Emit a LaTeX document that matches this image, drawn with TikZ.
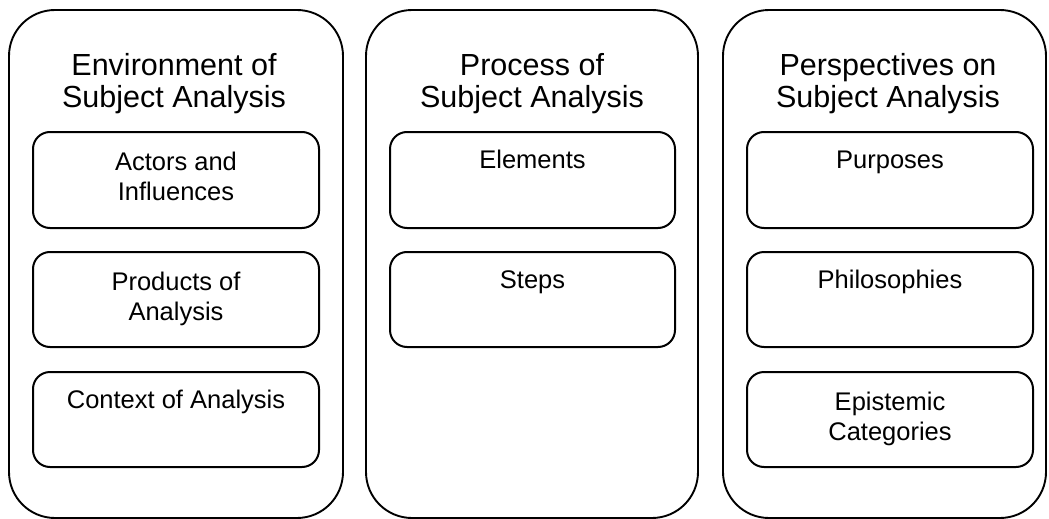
\documentclass[tikz,border=0pt]{standalone}
\usepackage{fontspec}
\setmainfont{Liberation Sans}
\begin{document}
\begin{tikzpicture}[x=1pt,y=-1pt,
  outerbox/.style={draw, line width=1.9pt, rounded corners=46pt, inner sep=0pt, minimum height=508pt},
  innerbox/.style={draw, line width=2pt, rounded corners=17pt, inner sep=0pt},
  titletext/.style={anchor=base, align=center, inner sep=0pt, font=\fontsize{30.5}{32}\selectfont},
  itemtext/.style={anchor=base, align=center, inner sep=0pt, font=\fontsize{25.5}{30}\selectfont}]
\useasboundingbox (0,0) rectangle (1049,519);
% outer columns
\node[outerbox, minimum width=334pt] (envbox) at (176,264) {};
\node[outerbox, minimum width=332pt] (procbox) at (532,264) {};
\node[outerbox, minimum width=323pt] (perspbox) at (884.5,264) {};
% titles (base anchor = last line baseline)
\node[titletext] (envtitle) at (174,107) {Environment of\\Subject Analysis};
\node[titletext] (proctitle) at (532,107) {Process of\\Subject Analysis};
\node[titletext] (persptitle) at (888,107) {Perspectives on\\Subject Analysis};
% left inner boxes
\node[innerbox, minimum width=286pt, minimum height=96pt] (actors) at (176,180) {};
\node[innerbox, minimum width=286pt, minimum height=95pt] (products) at (176,299.5) {};
\node[innerbox, minimum width=286pt, minimum height=95pt] (context) at (176,419.5) {};
\node[itemtext] (actorst) at (176,200) {Actors and\\Influences};
\node[itemtext] (productst) at (176,320) {Products of\\Analysis};
\node[itemtext] (contextt) at (176,408) {Context of Analysis};
% middle inner boxes
\node[innerbox, minimum width=285pt, minimum height=96pt] (elements) at (532.5,180) {};
\node[innerbox, minimum width=285pt, minimum height=95pt] (steps) at (532.5,299.5) {};
\node[itemtext] (elementst) at (532.5,168) {Elements};
\node[itemtext] (stepst) at (532.5,288) {Steps};
% right inner boxes
\node[innerbox, minimum width=286pt, minimum height=96pt] (purposes) at (890,180) {};
\node[innerbox, minimum width=286pt, minimum height=95pt] (philos) at (890,299.5) {};
\node[innerbox, minimum width=286pt, minimum height=95pt] (epist) at (890,419.5) {};
\node[itemtext] (purposest) at (890,168) {Purposes};
\node[itemtext] (philost) at (890,288) {Philosophies};
\node[itemtext] (epistt) at (890,440) {Epistemic\\Categories};
\end{tikzpicture}
\end{document}
